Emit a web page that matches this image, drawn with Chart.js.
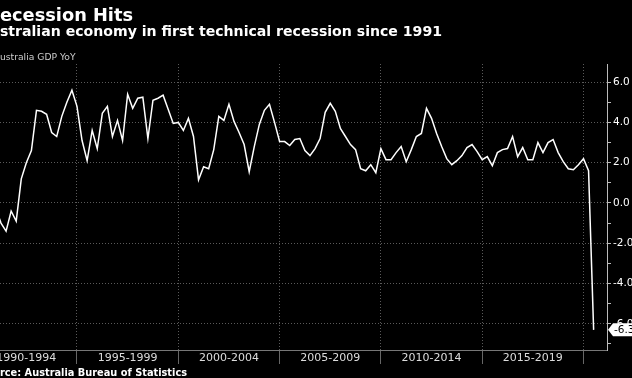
<!DOCTYPE html>
<html>
<head>
<meta charset="utf-8">
<script src="https://cdn.jsdelivr.net/npm/chart.js@4/dist/chart.umd.min.js"></script>
<style>
    html, body { margin: 0; padding: 0; background: #000; }
    #wrap { position: relative; width: 632px; height: 378px; overflow: hidden; background: #000; }
    #wrap canvas { position: absolute; left: 0; top: 0; }
    .txt { position: absolute; white-space: nowrap; color: #fff; font-family: "DejaVu Sans", sans-serif; line-height: 1; }
    #title { left: -13.7px; top: 5.5px; font-size: 17.8px; font-weight: bold; }
    #subtitle { left: -21px; top: 24px; font-size: 14.1px; font-weight: bold; }
    #legend { left: -6.3px; top: 52px; font-size: 9.2px; color: #ccc; }
    #source { left: -20.8px; top: 367.5px; font-size: 9.8px; font-weight: bold; }
</style>
</head>
<body>
<div id="wrap">
    <canvas id="gdp-chart" width="632" height="378"></canvas>
    <div class="txt" id="title">Recession Hits</div>
    <div class="txt" id="subtitle">Australian economy in first technical recession since 1991</div>
    <div class="txt" id="legend">Australia GDP YoY</div>
    <div class="txt" id="source">Source: Australia Bureau of Statistics</div>
</div>
<script>
    // Quarterly GDP YoY %, Q4 1990 .. Q2 2020, plotted at quarter end
    const firstQuarterEnd = 1991.0;
    const gdpYoY = [
        -0.3,
        -1.0, -1.4, -0.4, -0.9,   // 1991
        1.2, 2.0, 2.6, 4.6,       // 1992
        4.55, 4.4, 3.5, 3.3,      // 1993
        4.3, 5.0, 5.6, 4.8,       // 1994
        3.1, 2.1, 3.6, 2.7,       // 1995
        4.45, 4.8, 3.3, 4.1,      // 1996
        3.1, 5.4, 4.7, 5.2,       // 1997
        5.25, 3.2, 5.1, 5.2,      // 1998
        5.35, 4.65, 3.95, 4.0,    // 1999
        3.6, 4.2, 3.3, 1.15,      // 2000
        1.8, 1.7, 2.65, 4.3,      // 2001
        4.1, 4.9, 4.05, 3.5,      // 2002
        2.9, 1.55, 2.8, 3.9,      // 2003
        4.6, 4.9, 4.0, 3.05,      // 2004
        3.05, 2.85, 3.15, 3.2,    // 2005
        2.6, 2.35, 2.7, 3.2,      // 2006
        4.5, 4.95, 4.55, 3.7,     // 2007
        3.3, 2.9, 2.65, 1.7,      // 2008
        1.6, 1.9, 1.5, 2.7,       // 2009
        2.15, 2.15, 2.5, 2.8,     // 2010
        2.05, 2.65, 3.3, 3.45,    // 2011
        4.7, 4.2, 3.45, 2.8,      // 2012
        2.2, 1.9, 2.1, 2.35,      // 2013
        2.75, 2.9, 2.55, 2.15,    // 2014
        2.3, 1.85, 2.5, 2.65,     // 2015
        2.7, 3.3, 2.3, 2.75,      // 2016
        2.15, 2.15, 3.0, 2.5,     // 2017
        3.0, 3.15, 2.5, 2.05,     // 2018
        1.7, 1.65, 1.9, 2.2,      // 2019
        1.6, -6.3                 // 2020
    ];

    // x axis: five-year periods, label sits in the middle of each period
    const periodStarts = [1990, 1995, 2000, 2005, 2010, 2015];
    const periodLabels = ['1990-1994', '1995-1999', '2000-2004', '2005-2009', '2010-2014', '2015-2019'];
    const periodBreaks = [1995, 2000, 2005, 2010, 2015, 2020];
    const xRange = [1991.2, 2021.16];

    // y axis
    const yTicks = [-7, -6, -5, -4, -3, -2, -1, 0, 1, 2, 3, 4, 5, 6];
    const yRange = [-7.3, 6.9];
    const lastLabel = '-6.3';

    const FONT = '"DejaVu Sans", sans-serif';

    const points = gdpYoY.map(function(v, i) {
        return { x: firstQuarterEnd + i * 0.25, y: v };
    });

    /**
     * White tag with the latest value, on the right axis
     */
    const lastValueTag = {
        id: 'lastValueTag',
        afterDraw: function(chart) {
            const ctx = chart.ctx;
            const yScale = chart.scales.y;
            const yPix = yScale.getPixelForValue(gdpYoY[gdpYoY.length - 1]);
            const x = yScale.left + 1;
            ctx.save();
            ctx.fillStyle = '#fff';
            ctx.beginPath();
            ctx.moveTo(x, yPix);
            ctx.lineTo(x + 5, yPix - 6.5);
            ctx.lineTo(640, yPix - 6.5);
            ctx.lineTo(640, yPix + 6.5);
            ctx.lineTo(x + 5, yPix + 6.5);
            ctx.closePath();
            ctx.fill();
            ctx.fillStyle = '#000';
            ctx.font = '10.5px ' + FONT;
            ctx.textBaseline = 'middle';
            ctx.fillText(lastLabel, x + 6, yPix + 0.5);
            ctx.restore();
        }
    };

    const ctx = document.getElementById('gdp-chart').getContext('2d');
    new Chart(ctx, {
        type: 'line',
        data: {
            datasets: [{
                label: 'Australia GDP YoY',
                data: points,
                borderColor: '#fff',
                borderWidth: 1.5,
                pointRadius: 0,
                tension: 0,
                fill: false
            }]
        },
        options: {
            responsive: false,
            animation: false,
            events: [],
            layout: { padding: { left: 0, right: 0, top: 64, bottom: 0 } },
            plugins: {
                legend: { display: false },
                tooltip: { enabled: false }
            },
            scales: {
                x: {
                    type: 'linear',
                    position: 'bottom',
                    min: xRange[0],
                    max: xRange[1],
                    afterBuildTicks: function(scale) {
                        const ticks = [];
                        periodStarts.forEach(function(s) { ticks.push({ value: s + 2.5 }); });
                        periodBreaks.forEach(function(b) { ticks.push({ value: b }); });
                        ticks.sort(function(a, b) { return a.value - b.value; });
                        scale.ticks = ticks;
                    },
                    afterFit: function(scale) {
                        scale.height = 28;
                        scale.paddingLeft = 0;
                        scale.paddingRight = 0;
                    },
                    ticks: {
                        autoSkip: false,
                        maxRotation: 0,
                        padding: -12,
                        color: '#ddd',
                        font: { family: FONT, size: 11 },
                        callback: function(value) {
                            const i = periodStarts.indexOf(value - 2.5);
                            return i >= 0 ? periodLabels[i] : '';
                        }
                    },
                    grid: {
                        drawOnChartArea: false,
                        drawTicks: true,
                        tickLength: 14,
                        tickColor: function(c) {
                            return c.tick && periodBreaks.indexOf(c.tick.value) >= 0 ? '#666' : 'rgba(0,0,0,0)';
                        }
                    },
                    border: { display: true, color: '#777', width: 1 }
                },
                xGrid: {
                    type: 'linear',
                    position: 'top',
                    min: xRange[0],
                    max: xRange[1],
                    afterBuildTicks: function(scale) {
                        scale.ticks = periodBreaks.map(function(b) { return { value: b }; });
                    },
                    afterFit: function(scale) {
                        scale.height = 0;
                        scale.paddingLeft = 0;
                        scale.paddingRight = 0;
                    },
                    ticks: { display: false },
                    grid: { color: '#5a5a5a', lineWidth: 1, drawTicks: false },
                    border: { display: false, dash: [1, 2] }
                },
                y: {
                    position: 'right',
                    min: yRange[0],
                    max: yRange[1],
                    afterBuildTicks: function(scale) {
                        scale.ticks = yTicks.map(function(v) { return { value: v }; });
                    },
                    afterFit: function(scale) {
                        scale.width = 25;
                        scale.paddingTop = 0;
                        scale.paddingBottom = 0;
                    },
                    ticks: {
                        padding: 2,
                        color: '#fff',
                        font: { family: FONT, size: 10.5 },
                        callback: function(value) {
                            return value % 2 === 0 ? value.toFixed(1) : '';
                        }
                    },
                    grid: {
                        color: function(c) {
                            return c.tick && c.tick.value % 2 === 0 ? '#5a5a5a' : 'rgba(0,0,0,0)';
                        },
                        lineWidth: 1,
                        tickLength: 4,
                        tickColor: '#bbb'
                    },
                    border: { display: true, color: '#bbb', width: 1, dash: [1, 2] }
                }
            }
        },
        plugins: [lastValueTag]
    });
</script>
</body>
</html>
